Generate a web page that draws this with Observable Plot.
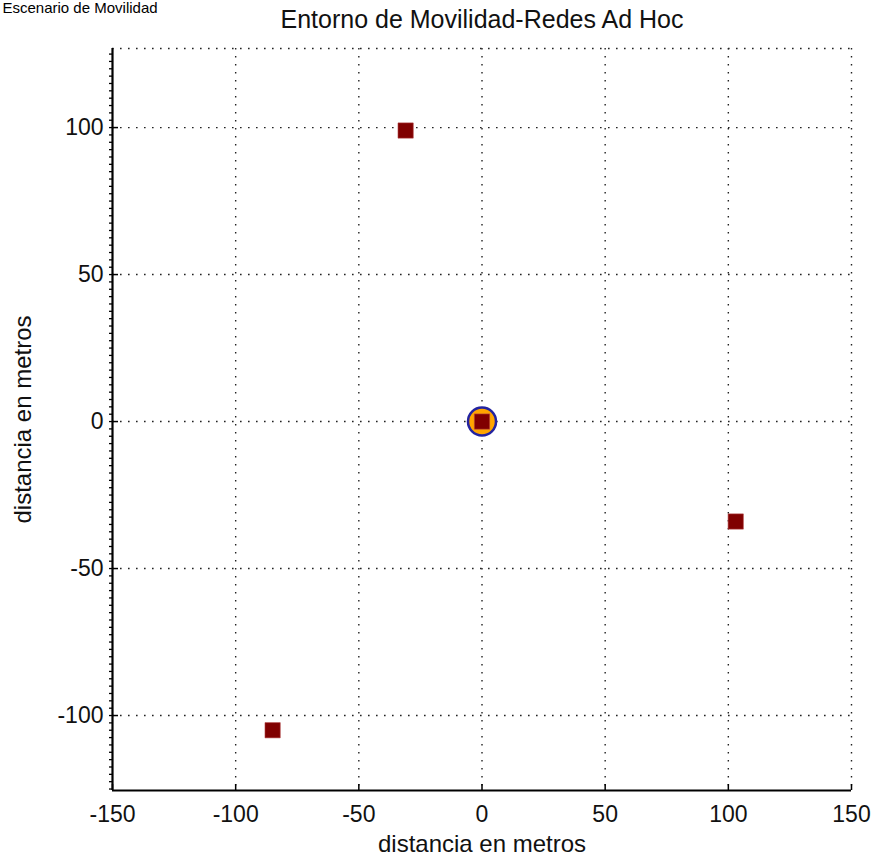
<!DOCTYPE html>
<html>
<head>
<meta charset="utf-8">
<script src="https://cdn.jsdelivr.net/npm/d3@7"></script>
<script src="https://cdn.jsdelivr.net/npm/@observablehq/plot@0.6"></script>
<style>
  html, body { margin: 0; padding: 0; background: #fff; overflow: hidden; }
  #chart { width: 877px; height: 860px; }
  #chart svg { font-family: "Liberation Sans", Arial, sans-serif; }
</style>
</head>
<body>
<div id="chart"></div>
<script>
// ---- data ----
const nodeX = [0, -31, 103, -85];
const nodeY = [0, 99, -34, -105];
const centerX = [0];
const centerY = [0];
const xTicks = [-150, -100, -50, 0, 50, 100, 150];
const yTicks = [-100, -50, 0, 50, 100];
const xDomain = [-150, 150];
const yDomain = [-125.5, 126.9];
const titleText = "Entorno de Movilidad-Redes Ad Hoc";
const figureText = "Escenario de Movilidad";
const xLabel = "distancia en metros";
const yLabel = "distancia en metros";

const nodes = nodeX.map((x, i) => ({x, y: nodeY[i]}));
const center = centerX.map((x, i) => ({x, y: centerY[i]}));
const minorY = d3.range(-125, 125.01, 2.5);
const gridX = xTicks.filter(d => d > xDomain[0]);
const gridY = [...yTicks, yDomain[1]];
const fmt = d => String(d);

const dotted = {stroke: "#222", strokeWidth: 1.4, strokeDasharray: "1.6,6.4"};

const chart = Plot.plot({
  width: 877,
  height: 860,
  marginLeft: 112,
  marginRight: 26,
  marginTop: 48,
  marginBottom: 70,
  x: {domain: xDomain},
  y: {domain: yDomain},
  style: {fontFamily: "Liberation Sans, Arial, sans-serif", overflow: "visible"},
  marks: [
    Plot.ruleX(gridX, dotted),
    Plot.ruleY(gridY, dotted),
    // minor y ticks (outward)
    Plot.axisY({ticks: minorY, tickSize: 3, text: null, label: null, stroke: "#000", strokeWidth: 1.3}),
    // major y ticks (inward)
    Plot.axisY({ticks: yTicks, tickSize: -6, text: null, label: null, stroke: "#000", strokeWidth: 1.5}),
    Plot.axisY({ticks: yTicks, tickSize: 0, tickPadding: 9, tickFormat: fmt, fontSize: 23, fill: "#111", label: null}),
    // x ticks (inward)
    Plot.axisX({ticks: xTicks, tickSize: -6, text: null, label: null, stroke: "#000", strokeWidth: 1.5}),
    Plot.axisX({ticks: xTicks, tickSize: 0, tickPadding: 15, tickFormat: fmt, fontSize: 23, fill: "#111", label: null}),
    // axis lines
    Plot.ruleX([xDomain[0]], {stroke: "#000", strokeWidth: 2.2}),
    Plot.ruleY([yDomain[0]], {stroke: "#000", strokeWidth: 1.8}),
    // center node
    Plot.dot(center, {x: "x", y: "y", r: 14, fill: "#ffa500", stroke: "#2323a0", strokeWidth: 2.5}),
    // nodes
    Plot.dot(nodes, {x: "x", y: "y", symbol: "square", r: 8.6, fill: "#800000", stroke: "#b04040", strokeWidth: 0.6}),
    // texts
    Plot.text([titleText], {frameAnchor: "top", dy: -29, fontSize: 25, fill: "#111", lineAnchor: "middle"}),
    Plot.text([figureText], {frameAnchor: "top-left", dx: -110, dy: -40, fontSize: 15, fill: "#000", textAnchor: "start", lineAnchor: "middle"}),
    Plot.text([xLabel], {frameAnchor: "bottom", dy: 54, fontSize: 24, fill: "#111", lineAnchor: "middle"}),
    Plot.text([yLabel], {frameAnchor: "left", dx: -89, rotate: -90, fontSize: 24, fill: "#111", textAnchor: "middle", lineAnchor: "middle"})
  ]
});
document.getElementById("chart").appendChild(chart);
</script>
</body>
</html>
